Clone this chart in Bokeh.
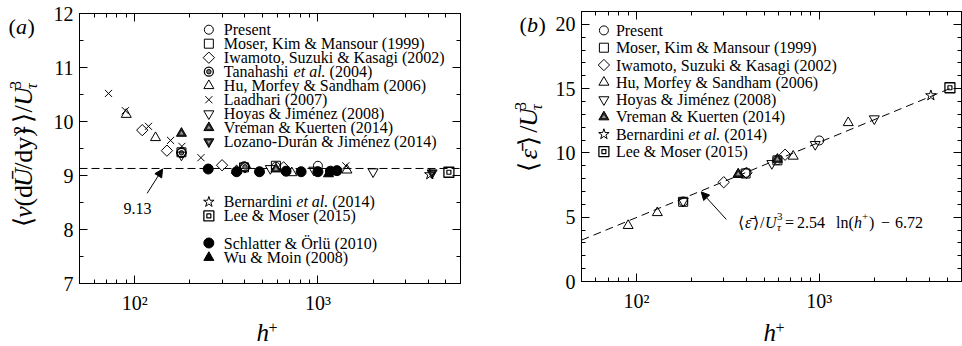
import math
from bokeh.plotting import figure
from bokeh.models import (Range1d, FixedTicker, SingleIntervalTicker, LinearAxis, LogAxis,
                          Label, Arrow, NormalHead, CustomJSTickFormatter)
from bokeh.layouts import row, column
from bokeh.core.properties import value
from bokeh.embed import file_html
from bokeh.resources import INLINE

FONT = "Liberation Serif"

# ---------------- data : panel (a) ----------------
A_PRESENT_H = [180, 395, 590, 1000]
A_PRESENT_Y = [9.43, 9.17, 9.16, 9.18]
A_MOSER_H = [180, 395, 590]
A_MOSER_Y = [9.43, 9.15, 9.18]
A_IWAMOTO_H = [110, 150, 300, 400, 650]
A_IWAMOTO_Y = [9.84, 9.46, 9.19, 9.15, 9.15]
A_TANAHASHI_H = [180, 400]
A_TANAHASHI_Y = [9.42, 9.16]
A_HU_H = [90, 130, 360, 720, 1440]
A_HU_Y = [10.13, 9.70, 9.09, 9.05, 9.10]
A_LAADHARI_H = [72, 89, 119, 157, 181, 230, 1420]
A_LAADHARI_Y = [10.52, 10.20, 9.91, 9.65, 9.54, 9.33, 9.18]
A_HOYAS_H = [180, 550, 950, 2000]
A_HOYAS_Y = [9.38, 9.13, 9.10, 9.07]
A_VREMAN_H = [180, 590]
A_VREMAN_Y = [9.78, 9.12]
A_LOZANO_H = [4200]
A_LOZANO_Y = [9.05]
A_BERNARDINI_H = [4080]
A_BERNARDINI_Y = [9.02]
A_LEE_H = [5186]
A_LEE_Y = [9.06]
A_SCHLATTER_H = [252, 360, 480, 670, 810, 1000, 1170, 1270]
A_SCHLATTER_Y = [9.12, 9.07, 9.07, 9.08, 9.07, 9.07, 9.08, 9.09]
A_WU_H = [1142]
A_WU_Y = [9.03]
A_FIT = 9.13

# ---------------- data : panel (b) ----------------
B_PRESENT_H = [180, 395, 590, 1000]
B_PRESENT_Y = [6.22, 8.45, 9.45, 10.97]
B_MOSER_H = [180, 395, 590]
B_MOSER_Y = [6.20, 8.40, 9.42]
B_IWAMOTO_H = [300, 400, 650]
B_IWAMOTO_Y = [7.72, 8.45, 9.86]
B_HU_H = [90, 130, 360, 720, 1440]
B_HU_Y = [4.35, 5.35, 8.32, 9.74, 12.35]
B_HOYAS_H = [180, 550, 950, 2000]
B_HOYAS_Y = [6.25, 9.18, 10.66, 12.66]
B_VREMAN_H = [360, 590]
B_VREMAN_Y = [8.35, 9.50]
B_BERNARDINI_H = [4080]
B_BERNARDINI_Y = [14.47]
B_LEE_H = [5186]
B_LEE_Y = [15.07]
B_FIT_SLOPE = 2.54
B_FIT_ICPT = -6.72
B_FIT_H = [50, 5186]

# ---------------- legends ----------------
LEG_A1_KEYS = ["present", "moser", "iwamoto", "tanahashi", "hu", "laadhari", "hoyas", "vreman", "lozano"]
LEG_A1_TEXT = ["Present", "Moser, Kim & Mansour (1999)", "Iwamoto, Suzuki & Kasagi (2002)",
               "Tanahashi et al. (2004)", "Hu, Morfey & Sandham (2006)", "Laadhari (2007)",
               "Hoyas & Jiménez (2008)", "Vreman & Kuerten (2014)", "Lozano-Durán & Jiménez (2014)"]
LEG_A2_KEYS = ["bernardini", "lee"]
LEG_A2_TEXT = ["Bernardini et al. (2014)", "Lee & Moser (2015)"]
LEG_A3_KEYS = ["schlatter", "wu"]
LEG_A3_TEXT = ["Schlatter & Örlü (2010)", "Wu & Moin (2008)"]
LEG_B_KEYS = ["present", "moser", "iwamoto", "hu", "hoyas", "vreman", "bernardini", "lee"]
LEG_B_TEXT = ["Present", "Moser, Kim & Mansour (1999)", "Iwamoto, Suzuki & Kasagi (2002)",
              "Hu, Morfey & Sandham (2006)", "Hoyas & Jiménez (2008)", "Vreman & Kuerten (2014)",
              "Bernardini et al. (2014)", "Lee & Moser (2015)"]

X_MAJOR = [100, 1000]
X_MINOR = [50, 60, 70, 80, 90, 200, 300, 400, 500, 600, 700, 800, 900,
           2000, 3000, 4000, 5000, 6000]

# axis-title pieces: (text, style, offset along the axis in px)
YLABEL_A = [("\u27e8", "normal", 0), ("\u03bd", "italic", 11), ("(d", "normal", 24),
            ("\u016a", "italic", 47), ("/dy)", "normal", 67), ("\u00b2", "normal", 109),
            ("\u27e9", "normal", 122), ("/", "normal", 134), ("U", "italic", 142)]
YLABEL_B = [("\u27e8", "normal", 0), ("\u03b5\u0304", "italic", 15), ("\u27e9", "normal", 31),
            ("/", "normal", 46), ("U", "italic", 53)]

# Times / Liberation Serif advance widths (per 1000 em) for offset of italic "et al."
W = {"T": 611, "a": 444, "n": 500, "h": 500, "s": 389, "i": 278, " ": 250, "B": 667,
     "e": 444, "r": 333, "d": 500}


def tw(s, size):
    return sum(W.get(c, 500) for c in s) * size / 1000.0


def draw_marker(p, kind, xs, ys):
    k = dict(line_color="black", line_width=1)
    if kind == "present":
        p.scatter(xs, ys, marker="circle", size=9, fill_color=None, **k)
    elif kind == "moser":
        p.scatter(xs, ys, marker="square", size=9, fill_color=None, **k)
    elif kind == "iwamoto":
        p.scatter(xs, ys, marker="square", angle=math.pi / 4, size=8, fill_color=None, **k)
    elif kind == "tanahashi":
        p.scatter(xs, ys, marker="circle", size=9, fill_color=None, line_color="black", line_width=1.3)
        p.scatter(xs, ys, marker="circle", size=4.5, fill_color="#777777", line_color="black", line_width=1)
    elif kind == "hu":
        p.scatter(xs, ys, marker="triangle", size=10, fill_color=None, **k)
    elif kind == "laadhari":
        p.scatter(xs, ys, marker="x", size=10, fill_color=None, **k)
    elif kind == "hoyas":
        p.scatter(xs, ys, marker="inverted_triangle", size=10, fill_color=None, **k)
    elif kind == "vreman":
        p.scatter(xs, ys, marker="triangle", size=10, fill_color="#222222", **k)
        p.scatter(xs, ys, marker="triangle", size=4, fill_color="#9a9a9a", line_color=None)
    elif kind == "lozano":
        p.scatter(xs, ys, marker="inverted_triangle", size=10, fill_color="#222222", **k)
        p.scatter(xs, ys, marker="inverted_triangle", size=4, fill_color="#9a9a9a", line_color=None)
    elif kind == "bernardini":
        p.scatter(xs, ys, marker="star", size=11, fill_color=None, **k)
    elif kind == "lee":
        p.scatter(xs, ys, marker="square", size=10, fill_color=None, line_color="black", line_width=1.3)
        p.scatter(xs, ys, marker="square", size=4, fill_color=None, line_color="black", line_width=1.2)
    elif kind == "schlatter":
        p.scatter(xs, ys, marker="circle", size=10, fill_color="black", **k)
    elif kind == "wu":
        p.scatter(xs, ys, marker="triangle", size=10, fill_color="black", **k)


def lab(p, x, y, text, size, style="normal", dx=0, dy=0, align="left", baseline="middle", angle=0):
    p.add_layout(Label(x=x, y=y, text=text, x_offset=dx, y_offset=dy, angle=angle,
                       text_font=FONT, text_font_size=f"{size}px", text_font_style=style,
                       text_align=align, text_baseline=baseline, text_color="black"))


def txt(f, x, y, s, size, style="normal", align="left", baseline="middle", angle=0):
    f.text(x=[x], y=[y], text=[s], angle=angle, text_font=value(FONT),
           text_font_size=f"{size}px", text_font_style=style, text_align=align,
           text_baseline=baseline, text_color="black")


def vertical_title(f, x, y0, pieces, size, sup, sub):
    end = 0
    for t, st, off in pieces:
        txt(f, x, y0 + off, t, size, style=st, angle=math.pi / 2)
        end = off
    end += 0.72 * size + 1
    txt(f, x - 8, y0 + end, sup, 16, angle=math.pi / 2)
    txt(f, x + 8, y0 + end, sub, 16, style="italic", angle=math.pi / 2)


def legend_text(p, x, y, text, size, dx):
    if "et al." in text:
        pre, post = text.split("et al.")
        lab(p, x, y, pre, size, dx=dx)
        d2 = dx + tw(pre, size)
        lab(p, x, y, "et al.", size, style="italic", dx=d2)
        lab(p, x, y, post.strip(), size, dx=d2 + 2000 * size / 1000.0 + 4)
    else:
        lab(p, x, y, text, size, dx=dx)


def legend(p, keys, texts, x, y0, dy, size, dx):
    for i, (k, t) in enumerate(zip(keys, texts)):
        y = y0 - i * dy
        draw_marker(p, k, [x], [y])
        legend_text(p, x, y, t, size, dx)


def style_axis(ax, labels=True):
    ax.axis_line_color = "black"
    ax.axis_line_width = 1
    ax.major_tick_in = 8
    ax.major_tick_out = 0
    ax.minor_tick_in = 4
    ax.minor_tick_out = 0
    ax.major_tick_line_color = "black"
    ax.minor_tick_line_color = "black"
    ax.major_label_text_font = FONT
    if labels:
        ax.major_label_text_font_size = "20px"
        ax.major_label_text_color = "black"
    else:
        ax.major_label_text_font_size = "2px"
        ax.major_label_text_color = None
        ax.major_label_standoff = 0


def make_fig(yr, ytick, yminor, bl, br, bt, bb, width, height):
    p = figure(width=width, height=height, x_axis_type="log", x_range=Range1d(50, 6000),
               y_range=Range1d(*yr), output_backend="svg", toolbar_location=None,
               min_border_left=bl, min_border_right=br, min_border_top=bt, min_border_bottom=bb)
    p.grid.visible = False
    p.outline_line_color = "black"
    p.background_fill_color = "white"
    p.border_fill_color = "white"
    fmt = CustomJSTickFormatter(code="return tick < 500 ? '10\u00b2' : '10\u00b3';")
    p.xaxis.ticker = FixedTicker(ticks=X_MAJOR, minor_ticks=X_MINOR)
    p.xaxis.formatter = fmt
    p.xaxis.major_label_standoff = 8
    p.yaxis.ticker = SingleIntervalTicker(interval=ytick, num_minor_ticks=yminor)
    p.yaxis.major_label_standoff = 6
    style_axis(p.xaxis[0])
    style_axis(p.yaxis[0])
    top = LogAxis(ticker=FixedTicker(ticks=X_MAJOR, minor_ticks=X_MINOR))
    style_axis(top, labels=False)
    p.add_layout(top, "above")
    right = LinearAxis(ticker=SingleIntervalTicker(interval=ytick, num_minor_ticks=yminor))
    style_axis(right, labels=False)
    p.add_layout(right, "right")
    return p


def strip(width, height):
    f = figure(width=width, height=height, x_range=Range1d(0, width), y_range=Range1d(0, height),
               output_backend="svg", toolbar_location=None, min_border=0,
               x_axis_location=None, y_axis_location=None)
    f.grid.visible = False
    f.outline_line_color = None
    f.background_fill_color = "white"
    f.border_fill_color = "white"
    return f


TOP_H = 316
BOT_H = 30

# ======================= panel (a) =======================
pa = make_fig((7, 12), 1, 2, 32, 21, 13, 33, 434, TOP_H)
pa.line([50, 6000], [A_FIT, A_FIT], line_color="black", line_width=1, line_dash="8 4")

for kind, xs, ys in [
    ("laadhari", A_LAADHARI_H, A_LAADHARI_Y), ("hu", A_HU_H, A_HU_Y),
    ("iwamoto", A_IWAMOTO_H, A_IWAMOTO_Y), ("moser", A_MOSER_H, A_MOSER_Y),
    ("present", A_PRESENT_H, A_PRESENT_Y), ("tanahashi", A_TANAHASHI_H, A_TANAHASHI_Y),
    ("hoyas", A_HOYAS_H, A_HOYAS_Y), ("vreman", A_VREMAN_H, A_VREMAN_Y),
    ("schlatter", A_SCHLATTER_H, A_SCHLATTER_Y), ("wu", A_WU_H, A_WU_Y),
    ("lozano", A_LOZANO_H, A_LOZANO_Y), ("bernardini", A_BERNARDINI_H, A_BERNARDINI_Y),
    ("lee", A_LEE_H, A_LEE_Y)]:
    draw_marker(pa, kind, xs, ys)

legend(pa, LEG_A1_KEYS, LEG_A1_TEXT, 254, 11.70, 14 / 54.0, 16, 15)
legend(pa, LEG_A2_KEYS, LEG_A2_TEXT, 254, 8.51, 14 / 54.0, 16, 15)
legend(pa, LEG_A3_KEYS, LEG_A3_TEXT, 254, 7.75, 14.5 / 54.0, 16, 15)

pa.add_layout(Arrow(end=NormalHead(size=8, fill_color="black", line_color="black"),
                    x_start=117, y_start=8.67, x_end=142, y_end=9.12,
                    line_color="black", line_width=1))
lab(pa, 103.5, 8.39, "9.13", 16, align="center")

la = strip(47, TOP_H)
vertical_title(la, 23, 66, YLABEL_A, 26, "3", "\u03c4")
txt(la, 8, 301, "(", 22)
txt(la, 15.5, 301, "a", 22, style="italic")
txt(la, 27, 301, ")", 22)

ba = strip(481, BOT_H)
txt(ba, 256, 14.5, "h", 25, style="italic")
txt(ba, 268, 19.5, "+", 16)

# ======================= panel (b) =======================
pb = make_fig((0, 21), 5, 5, 32, 1, 11, 35, 413, TOP_H)
fit_y = [B_FIT_SLOPE * math.log(h) + B_FIT_ICPT for h in B_FIT_H]
pb.line(B_FIT_H, fit_y, line_color="black", line_width=1, line_dash="8 5")

for kind, xs, ys in [
    ("hu", B_HU_H, B_HU_Y), ("iwamoto", B_IWAMOTO_H, B_IWAMOTO_Y),
    ("moser", B_MOSER_H, B_MOSER_Y), ("present", B_PRESENT_H, B_PRESENT_Y),
    ("hoyas", B_HOYAS_H, B_HOYAS_Y), ("vreman", B_VREMAN_H, B_VREMAN_Y),
    ("bernardini", B_BERNARDINI_H, B_BERNARDINI_Y), ("lee", B_LEE_H, B_LEE_Y)]:
    draw_marker(pb, kind, xs, ys)

legend(pb, LEG_B_KEYS, LEG_B_TEXT, 66.3, 19.53, 17.3 / 12.85, 16, 12)

pb.add_layout(Arrow(end=NormalHead(size=8, fill_color="black", line_color="black"),
                    x_start=310, y_start=4.83, x_end=226, y_end=6.97,
                    line_color="black", line_width=1))
ANN_DX = 6
lab(pb, 333, 4.61, "\u27e8", 16, dx=ANN_DX)
lab(pb, 333, 4.61, "\u03b5\u0304", 16, style="italic", dx=ANN_DX + 7)
lab(pb, 333, 4.61, "\u27e9", 16, dx=ANN_DX + 15)
lab(pb, 333, 4.61, "/", 16, dx=ANN_DX + 22)
lab(pb, 333, 4.61, "U", 16, style="italic", dx=ANN_DX + 27)
lab(pb, 333, 4.61, "3", 11, dx=ANN_DX + 39, dy=6)
lab(pb, 333, 4.61, "\u03c4", 11, style="italic", dx=ANN_DX + 39, dy=-5)
lab(pb, 333, 4.61, "=", 16, dx=ANN_DX + 47)
lab(pb, 333, 4.61, "2.54", 16, dx=ANN_DX + 59)
lab(pb, 333, 4.61, "ln(", 16, dx=ANN_DX + 98)
lab(pb, 333, 4.61, "h", 16, style="italic", dx=ANN_DX + 116)
lab(pb, 333, 4.61, "+", 11, dx=ANN_DX + 124, dy=6)
lab(pb, 333, 4.61, ")", 16, dx=ANN_DX + 131)
lab(pb, 333, 4.61, "\u2212", 16, dx=ANN_DX + 143)
lab(pb, 333, 4.61, "6.72", 16, dx=ANN_DX + 157)

lb = strip(68, TOP_H)
vertical_title(lb, 47, 128, YLABEL_B, 26, "3", "\u03c4")
txt(lb, 38, 301, "(", 22)
txt(lb, 45.5, 301, "b", 22, style="italic")
txt(lb, 57, 301, ")", 22)

bb = strip(481, BOT_H)
txt(bb, 282, 14.5, "h", 25, style="italic")
txt(bb, 294, 19.5, "+", 16)

layout = row(column(row(la, pa), ba), column(row(lb, pb), bb))
open("out.html", "w").write(file_html(layout, INLINE))
